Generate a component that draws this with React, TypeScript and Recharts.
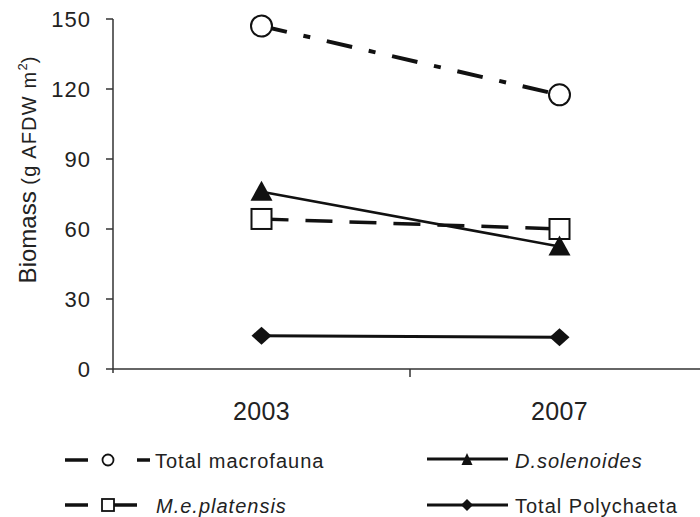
import React from 'react';
import { LineChart, Line, XAxis, YAxis, Legend, Label } from 'recharts';

const years = ['2003', '2007'];
const totalMacrofauna = [147, 117.5];
const meplatensis = [64.3, 60];
const dsolenoides = [76, 52.5];
const totalPolychaeta = [14.3, 13.6];
const yTicks = [0, 30, 60, 90, 120, 150];

const data = years.map((year, i) => ({
  year,
  total: totalMacrofauna[i],
  me: meplatensis[i],
  ds: dsolenoides[i],
  poly: totalPolychaeta[i],
}));

const FONT = '"Liberation Sans", Arial, Helvetica, sans-serif';
const INK = '#111';
const TXT = '#222';
const AXIS = '#333';
const HALF_BAND = 148.5; // x-axis padding = half a category band
const X_TICK_MARGIN = 33;

const CircleDot = (p: any) =>
  p.cx == null ? <g key={`c${p.index}`} /> : (
    <circle key={`c${p.index}`} cx={p.cx} cy={p.cy} r={10.5} fill="#fff" stroke={INK} strokeWidth={2} />
  );
const SquareDot = (p: any) =>
  p.cx == null ? <g key={`s${p.index}`} /> : (
    <rect key={`s${p.index}`} x={p.cx - 10} y={p.cy - 10} width={20} height={20} fill="#fff" stroke={INK} strokeWidth={2} />
  );
const TriangleDot = (p: any) =>
  p.cx == null ? <g key={`t${p.index}`} /> : (
    <polygon
      key={`t${p.index}`}
      points={`${p.cx},${p.cy - 11} ${p.cx - 11},${p.cy + 9} ${p.cx + 11},${p.cy + 9}`}
      fill={INK}
    />
  );
const DiamondDot = (p: any) =>
  p.cx == null ? <g key={`d${p.index}`} /> : (
    <polygon
      key={`d${p.index}`}
      points={`${p.cx},${p.cy - 9} ${p.cx + 10},${p.cy} ${p.cx},${p.cy + 9} ${p.cx - 10},${p.cy}`}
      fill={INK}
    />
  );

// Category tick: label at the category centre, tick marks at the band boundaries
const XTick = (p: any) => {
  const axisY = p.y - X_TICK_MARGIN;
  return (
    <g>
      {p.index === 0 && (
        <line x1={p.x - HALF_BAND} x2={p.x - HALF_BAND} y1={axisY} y2={axisY + 4} stroke={AXIS} strokeWidth={1.5} />
      )}
      <line x1={p.x + HALF_BAND} x2={p.x + HALF_BAND} y1={axisY} y2={axisY + 8} stroke={AXIS} strokeWidth={1.5} />
      <text
        x={p.x}
        y={p.y}
        dy="0.71em"
        textAnchor="middle"
        fill={TXT}
        fontSize={25}
        fontFamily={FONT}
        letterSpacing={0.4}
      >
        {p.payload.value}
      </text>
    </g>
  );
};

const YLabelContent = () => (
  <text transform="translate(36,170) rotate(-90)" textAnchor="middle" fill={TXT} fontFamily={FONT}>
    <tspan fontSize={24}>Biomass </tspan>
    <tspan fontSize={20} letterSpacing={1.2}>(g AFDW m</tspan>
    <tspan fontSize={13} dy={-9}>2</tspan>
    <tspan fontSize={20} dy={9}>)</tspan>
  </text>
);

const legendText = { fontFamily: FONT, fontSize: 20, letterSpacing: 1, fill: TXT } as const;

const LegendContent = () => (
  <svg width={700} height={77} style={{ display: 'block' }}>
    <line x1={65} y1={20} x2={88} y2={20} stroke={INK} strokeWidth={3.5} />
    <circle cx={108} cy={20} r={5.5} fill="#fff" stroke={INK} strokeWidth={1.8} />
    <line x1={137} y1={20} x2={150} y2={20} stroke={INK} strokeWidth={3.5} />
    <text x={155} y={28} {...legendText}>Total macrofauna</text>
    <line x1={427} y1={19} x2={508} y2={19} stroke={INK} strokeWidth={3} />
    <polygon points="467,13 461.5,25 472.5,25" fill={INK} />
    <text x={515} y={28} {...legendText} fontStyle="italic">D.solenoides</text>
    <line x1={65} y1={65} x2={88} y2={65} stroke={INK} strokeWidth={3.5} />
    <line x1={114} y1={65} x2={137} y2={65} stroke={INK} strokeWidth={3.5} />
    <rect x={102} y={59} width={12} height={12} fill="#fff" stroke={INK} strokeWidth={1.8} />
    <text x={156} y={73} {...legendText} fontStyle="italic">M.e.platensis</text>
    <line x1={427} y1={65} x2={508} y2={65} stroke={INK} strokeWidth={3} />
    <polygon points="467,59 473,65 467,71 461,65" fill={INK} />
    <text x={515} y={73} {...legendText}>Total Polychaeta</text>
  </svg>
);

export default function App() {
  return (
    <div
      style={{
        position: 'absolute',
        left: 0,
        top: 0,
        width: 700,
        height: 517,
        overflow: 'hidden',
        background: '#fff',
        fontFamily: FONT,
      }}
    >
      <LineChart width={708} height={517} data={data} margin={{ top: 19, right: 0, left: 0, bottom: 0 }}>
        <XAxis
          dataKey="year"
          padding={{ left: HALF_BAND, right: HALF_BAND }}
          axisLine={{ stroke: AXIS, strokeWidth: 1.5 }}
          tickLine={false}
          tickSize={0}
          tickMargin={X_TICK_MARGIN}
          height={148}
          interval={0}
          tick={XTick}
        />
        <YAxis
          width={113}
          domain={[0, 150]}
          ticks={yTicks}
          interval={0}
          tickSize={7}
          tickMargin={15}
          axisLine={{ stroke: AXIS, strokeWidth: 1.5 }}
          tickLine={{ stroke: AXIS, strokeWidth: 1.5 }}
          tick={{ fill: TXT, fontSize: 22, fontFamily: FONT, letterSpacing: 1 }}
        >
          <Label content={YLabelContent} />
        </YAxis>
        <Legend
          verticalAlign="middle"
          layout="horizontal"
          align="center"
          content={LegendContent}
          wrapperStyle={{ top: 440, left: 0, width: 700, height: 77 }}
        />
        <Line dataKey="total" name="Total macrofauna" stroke={INK} strokeWidth={4} strokeDasharray="26 17 7 17" dot={CircleDot} activeDot={false} isAnimationActive={false} />
        <Line dataKey="me" name="M.e.platensis" stroke={INK} strokeWidth={3.5} strokeDasharray="27 17" dot={SquareDot} activeDot={false} isAnimationActive={false} />
        <Line dataKey="ds" name="D.solenoides" stroke={INK} strokeWidth={2.5} dot={TriangleDot} activeDot={false} isAnimationActive={false} />
        <Line dataKey="poly" name="Total Polychaeta" stroke={INK} strokeWidth={3} dot={DiamondDot} activeDot={false} isAnimationActive={false} />
      </LineChart>
    </div>
  );
}
